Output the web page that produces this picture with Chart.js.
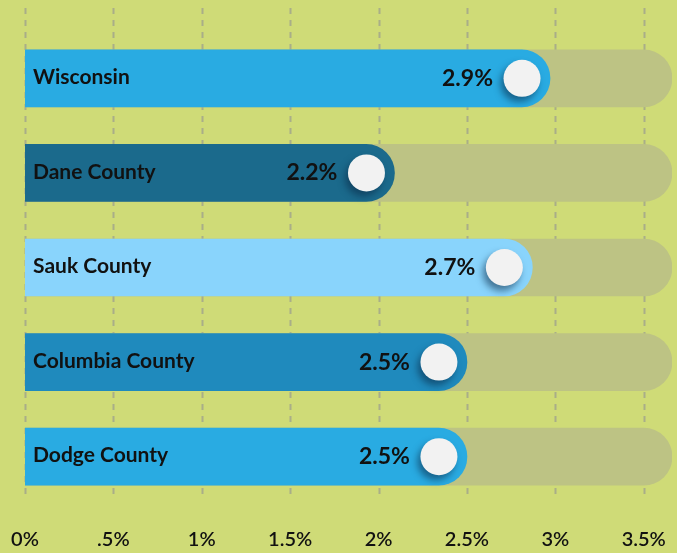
<!DOCTYPE html>
<html>
<head>
<meta charset="utf-8">
<script src="https://cdn.jsdelivr.net/npm/chart.js@4"></script>
<style>
  html, body { margin: 0; padding: 0; background: #cfdb77; }
  #wrap { width: 677px; height: 553px; }
</style>
</head>
<body>
<div id="wrap"><canvas id="chart"></canvas></div>
<script>
// dados
const regioes = ['Wisconsin', 'Dane County', 'Sauk County', 'Columbia County', 'Dodge County'];
const rotulosValor = ['2.9%', '2.2%', '2.7%', '2.5%', '2.5%'];
const comprimentos = [2.97, 2.09, 2.87, 2.5, 2.5]; // fim de cada barra no eixo
const coresBarras = ['#29abe2', '#1b6a8c', '#89d4fc', '#1f8abd', '#29abe2'];
const fundoTrilha = [3.66, 3.66, 3.66, 3.66, 3.66];
const ticksX = [0, 0.5, 1, 1.5, 2, 2.5, 3, 3.5];
const ticksTexto = ['0%', '.5%', '1%', '1.5%', '2%', '2.5%', '3%', '3.5%'];

// linhas tracejadas verticais atrás das barras
const gradeTracejada = {
  id: 'gradeTracejada',
  beforeDatasetsDraw(chart) {
    const { ctx, scales: { x } } = chart;
    ctx.save();
    ctx.strokeStyle = '#a9ae88';
    ctx.lineWidth = 2;
    ctx.setLineDash([6, 6]);
    ticksX.forEach(v => {
      const px = Math.round(x.getPixelForValue(v)) + 0.5;
      ctx.beginPath();
      ctx.moveTo(px, 8);
      ctx.lineTo(px, 496);
      ctx.stroke();
    });
    ctx.restore();
  }
};

// bolinha branca, valor e nome da região
const marcadores = {
  id: 'marcadores',
  afterDatasetsDraw(chart) {
    const { ctx, chartArea } = chart;
    const meta = chart.getDatasetMeta(1);
    ctx.save();
    meta.data.forEach((bar, i) => {
      const cx = bar.x - 28;
      const cy = bar.y;
      // sombra
      ctx.save();
      ctx.shadowColor = 'rgba(10, 40, 70, 0.55)';
      ctx.shadowBlur = 7;
      ctx.shadowOffsetX = -3;
      ctx.shadowOffsetY = 5;
      ctx.fillStyle = '#f2f2f2';
      ctx.beginPath();
      ctx.arc(cx, cy, 18.5, 0, Math.PI * 2);
      ctx.fill();
      ctx.restore();

      ctx.fillStyle = '#111';
      ctx.textBaseline = 'middle';
      ctx.textAlign = 'right';
      ctx.font = "bold 23px 'Lato', sans-serif";
      ctx.fillText(rotulosValor[i], cx - 29, cy);

      ctx.textAlign = 'left';
      ctx.font = "bold 21px 'Lato', sans-serif";
      ctx.fillText(regioes[i], chartArea.left + 8, cy - 1);
    });
    ctx.restore();
  }
};

new Chart(document.getElementById('chart'), {
  type: 'bar',
  data: {
    labels: regioes,
    datasets: [
      {
        data: fundoTrilha,
        backgroundColor: '#bdc384',
        borderRadius: { topRight: 40, bottomRight: 40 },
        borderSkipped: 'start',
        barThickness: 57,
        grouped: false,
        order: 2
      },
      {
        data: comprimentos,
        backgroundColor: coresBarras,
        borderRadius: { topRight: 40, bottomRight: 40 },
        borderSkipped: 'start',
        barThickness: 57,
        grouped: false,
        order: 1
      }
    ]
  },
  options: {
    indexAxis: 'y',
    responsive: true,
    maintainAspectRatio: false,
    animation: false,
    layout: { padding: { left: 25, right: 5, top: 31, bottom: 2 } },
    plugins: { legend: { display: false }, tooltip: { enabled: false } },
    scales: {
      x: {
        min: 0,
        max: 3.66,
        border: { display: false },
        grid: { display: false, drawTicks: false },
        afterFit(scale) {
          scale.height = 47;
          scale.paddingLeft = 0;
          scale.paddingRight = 0;
        },
        ticks: {
          stepSize: 0.5,
          includeBounds: false,
          maxRotation: 0,
          autoSkip: false,
          padding: 24,
          color: '#111',
          font: { size: 20, family: "'Lato', sans-serif", weight: '600' },
          callback: v => {
            const i = ticksX.indexOf(v);
            return i >= 0 ? ticksTexto[i] : '';
          }
        }
      },
      y: { display: false }
    }
  },
  plugins: [gradeTracejada, marcadores]
});
</script>
</body>
</html>
